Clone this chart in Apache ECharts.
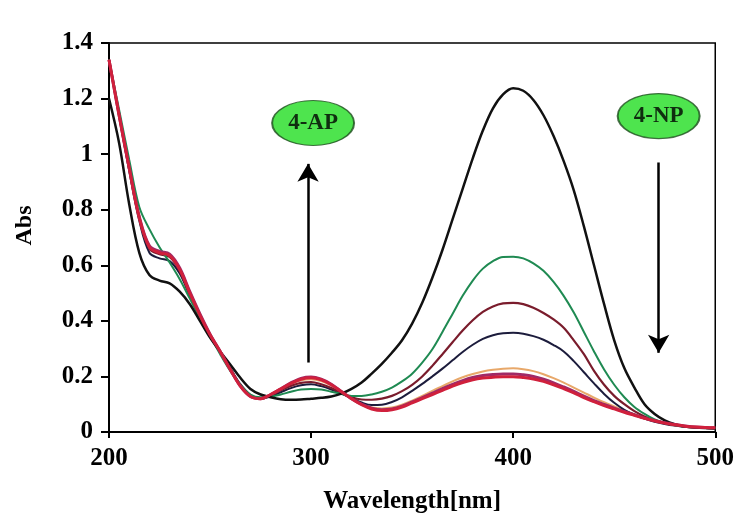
<!DOCTYPE html>
<html>
<head>
<meta charset="utf-8">
<script src="https://cdn.jsdelivr.net/npm/echarts@6/dist/echarts.min.js"></script>
<style>html,body{margin:0;padding:0;background:#fff;}#c{width:737px;height:524px;}</style>
</head>
<body>
<div id="c"></div>
<script>
// Wavelength grid (nm)
const wavelengths = [200,205,210,215,220,225,230,235,240,245,250,255,260,265,270,275,280,285,290,295,300,305,310,315,320,325,330,335,340,345,350,355,360,365,370,375,380,385,390,395,400,405,410,415,420,425,430,435,440,445,450,455,460,465,470,475,480,485,490,495,500];

const absBlack = [1.20,1.04,0.82,0.645,0.565, 0.545,0.535,0.505,0.46, 0.40,0.34,0.29,0.243, 0.195,0.155,0.135,0.125, 0.118,0.116,0.117,0.12, 0.123,0.128,0.138,0.155, 0.178,0.21,0.245,0.285, 0.33,0.39,0.465,0.555, 0.655,0.765,0.875,0.985, 1.085,1.165,1.215,1.237, 1.228,1.195,1.14,1.065, 0.975,0.87,0.74,0.60, 0.46,0.33,0.23,0.16, 0.10,0.065,0.042,0.028, 0.02,0.016,0.014,0.013];
const absGreen = [1.34,1.16,0.98,0.81,0.73, 0.665,0.61,0.55,0.48, 0.41,0.345,0.28,0.22, 0.17,0.135,0.125,0.127, 0.135,0.145,0.153,0.155, 0.153,0.145,0.137,0.13, 0.13,0.135,0.145,0.16, 0.182,0.21,0.25,0.298, 0.36,0.425,0.49,0.545, 0.588,0.615,0.63,0.631, 0.625,0.607,0.58,0.54, 0.49,0.43,0.36,0.29, 0.225,0.17,0.125,0.09, 0.065,0.045,0.032,0.024, 0.019,0.016,0.014,0.013];
const absMaroon = [1.34,1.14,0.95,0.77,0.66, 0.64,0.63,0.58,0.495, 0.415,0.35,0.29,0.228, 0.168,0.13,0.12,0.132, 0.15,0.166,0.177,0.18, 0.172,0.158,0.14,0.125, 0.117,0.116,0.12,0.13, 0.147,0.17,0.2,0.238, 0.28,0.323,0.365,0.402, 0.432,0.452,0.463,0.465, 0.46,0.447,0.428,0.405, 0.375,0.33,0.28,0.22, 0.17,0.13,0.1,0.075, 0.056,0.042,0.032,0.025, 0.02,0.017,0.015,0.014];
const absNavy = [1.34,1.14,0.94,0.76,0.645, 0.625,0.615,0.57,0.49, 0.415,0.35,0.29,0.23, 0.172,0.133,0.12,0.128, 0.143,0.158,0.168,0.172, 0.165,0.153,0.138,0.122, 0.106,0.097,0.098,0.108, 0.125,0.148,0.173,0.2, 0.228,0.258,0.288,0.314, 0.335,0.348,0.355,0.357, 0.354,0.345,0.332,0.313, 0.29,0.255,0.215,0.175, 0.137,0.105,0.08,0.062, 0.048,0.037,0.029,0.023, 0.019,0.017,0.015,0.014];
const absOrange = [1.34,1.14,0.95,0.77,0.665, 0.645,0.635,0.585,0.50, 0.42,0.35,0.29,0.225, 0.165,0.128,0.12,0.135, 0.153,0.172,0.186,0.19, 0.183,0.167,0.145,0.122, 0.1,0.088,0.085,0.088, 0.098,0.113,0.13,0.148, 0.165,0.182,0.197,0.209, 0.218,0.224,0.228,0.229, 0.226,0.219,0.208,0.194, 0.178,0.16,0.142,0.124, 0.107,0.092,0.077,0.064, 0.052,0.042,0.033,0.027, 0.022,0.018,0.016,0.015];
const absMagenta = [1.34,1.14,0.95,0.775,0.67, 0.65,0.64,0.59,0.505, 0.425,0.352,0.29,0.225, 0.165,0.128,0.12,0.135, 0.155,0.177,0.193,0.198, 0.19,0.172,0.146,0.12, 0.1,0.086,0.08,0.083, 0.093,0.108,0.124,0.14, 0.156,0.171,0.185,0.196, 0.203,0.207,0.209,0.209, 0.206,0.2,0.19,0.177, 0.162,0.146,0.129,0.113, 0.099,0.086,0.074,0.062, 0.05,0.041,0.033,0.027, 0.022,0.018,0.016,0.015];
const absRed = [1.34,1.14,0.95,0.77,0.665, 0.645,0.635,0.585,0.50, 0.42,0.35,0.29,0.225, 0.165,0.128,0.12,0.135, 0.155,0.175,0.19,0.195, 0.188,0.17,0.145,0.12, 0.098,0.083,0.077,0.08, 0.09,0.105,0.12,0.135, 0.15,0.165,0.178,0.188, 0.194,0.197,0.199,0.199, 0.196,0.191,0.182,0.17, 0.156,0.141,0.124,0.109, 0.095,0.083,0.071,0.06, 0.049,0.04,0.032,0.026, 0.021,0.018,0.016,0.015];

// Annotations (data units)
const labelAP = {name: '4-AP', x: 301, y: 1.112};
const labelNP = {name: '4-NP', x: 472, y: 1.137};
const arrowAP = {x: 298.5, from: 0.25, to: 0.965};
const arrowNP = {x: 472, from: 0.97, to: 0.285};

const FONT = '"Liberation Serif", "Times New Roman", serif';
const zip = ys => wavelengths.map((w, i) => [w, ys[i]]);

function line(name, data, color, width, extra) {
  return Object.assign({
    name, type: 'line', data: zip(data), showSymbol: false, smooth: 0.35,
    lineStyle: {color, width}, itemStyle: {color}, z: 3
  }, extra || {});
}

const chart = echarts.init(document.getElementById('c'), null, {renderer: 'canvas'});
chart.setOption({
  animation: false,
  backgroundColor: '#ffffff',
  grid: {left: 109, right: 18, top: 43, bottom: 92, show: true, borderColor: '#000', borderWidth: 1.5, backgroundColor: 'transparent'},
  xAxis: {
    type: 'value', min: 200, max: 500, interval: 100,
    name: 'Wavelength[nm]', nameLocation: 'middle', nameGap: 57,
    nameTextStyle: {fontFamily: FONT, fontWeight: 'bold', fontSize: 25, color: '#000'},
    axisLine: {lineStyle: {color: '#000', width: 2}},
    axisTick: {show: true, length: 6, lineStyle: {color: '#000', width: 2}},
    axisLabel: {fontFamily: FONT, fontWeight: 'bold', fontSize: 25, color: '#000', margin: 14},
    splitLine: {show: false}
  },
  yAxis: {
    type: 'value', min: 0, max: 1.4, interval: 0.2,
    name: 'Abs', nameLocation: 'middle', nameGap: 72, nameRotate: 90,
    nameTextStyle: {fontFamily: FONT, fontWeight: 'bold', fontSize: 24, color: '#000', padding: [0, 0, 0, 24]},
    axisLine: {lineStyle: {color: '#000', width: 2}},
    axisTick: {show: true, length: 8, lineStyle: {color: '#000', width: 2}},
    axisLabel: {fontFamily: FONT, fontWeight: 'bold', fontSize: 25, color: '#000', margin: 16},
    splitLine: {show: false}
  },
  series: [
    line('s4', absOrange, '#e8a86a', 2),
    line('s3', absNavy, '#1c1c3c', 2),
    line('s2', absMaroon, '#7a1c2c', 2.2),
    line('s1', absGreen, '#1f8a52', 2),
    line('s0', absBlack, '#111111', 2.5, {
      markLine: {
        silent: true, symbol: ['none', 'arrow'], symbolSize: [16, 18],
        lineStyle: {color: '#000', width: 2.5, type: 'solid'},
        label: {show: false},
        data: [
          [{coord: [arrowAP.x, arrowAP.from]}, {coord: [arrowAP.x, arrowAP.to]}],
          [{coord: [arrowNP.x, arrowNP.from]}, {coord: [arrowNP.x, arrowNP.to]}]
        ]
      }
    }),
    line('s5', absMagenta, '#a02a66', 3),
    line('s6', absRed, '#d0203c', 3),
    {
      type: 'scatter', z: 5, silent: true,
      symbol: 'circle', symbolSize: [82, 45],
      itemStyle: {color: '#22dd22', borderColor: '#1d4d1d', borderWidth: 1.5},
      label: {show: true, position: 'inside', formatter: p => p.name,
              fontFamily: FONT, fontWeight: 'bold', fontSize: 23, color: '#000'},
      data: [
        {name: labelAP.name, value: [labelAP.x, labelAP.y]},
        {name: labelNP.name, value: [labelNP.x, labelNP.y]}
      ]
    }
  ]
});
</script>
</body>
</html>
